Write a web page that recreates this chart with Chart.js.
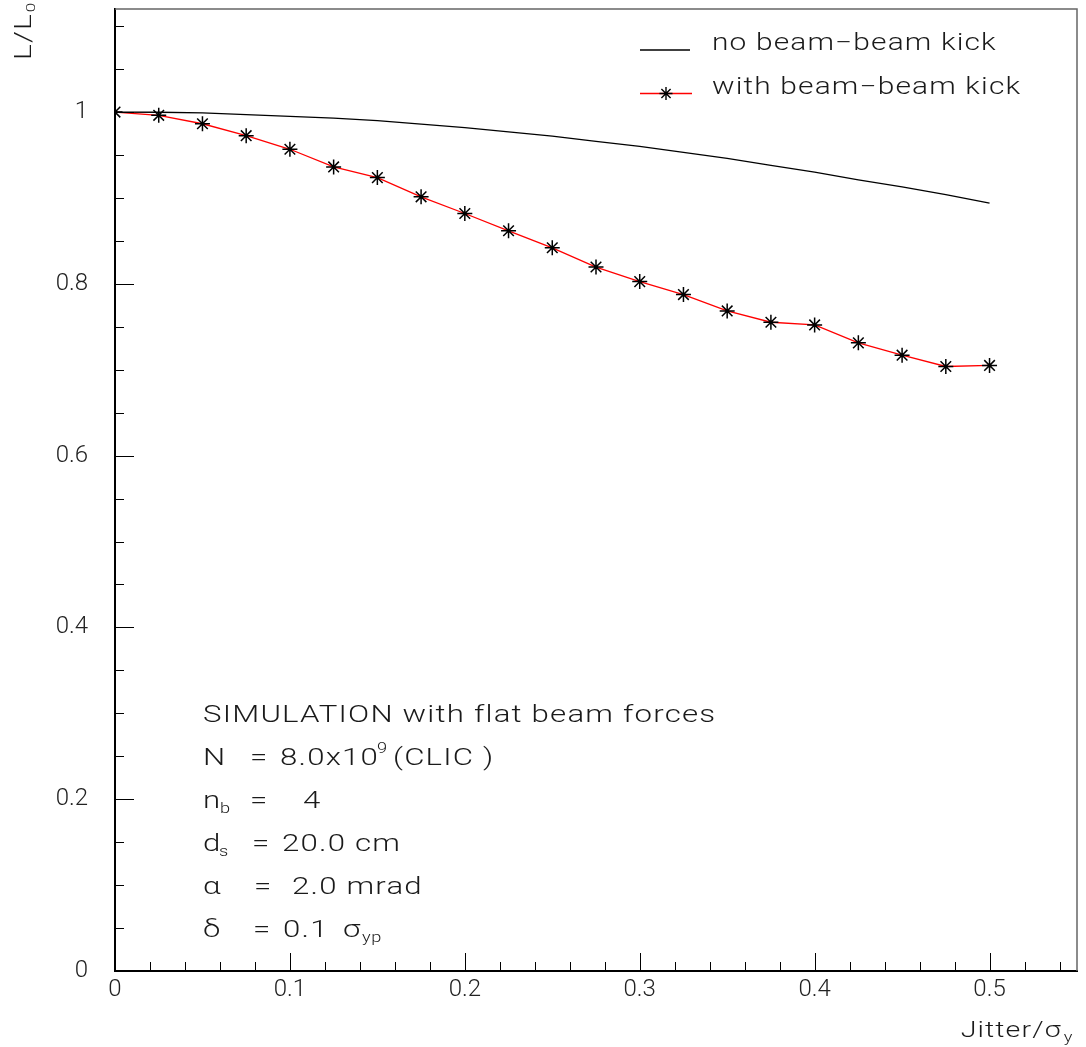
<!DOCTYPE html>
<html>
<head>
<meta charset="utf-8">
<script src="https://cdn.jsdelivr.net/npm/chart.js@4"></script>
<style>
html,body{margin:0;padding:0;background:#fff;}
#c{display:block;}
</style>
</head>
<body>
<canvas id="c" width="1086" height="1047"></canvas>
<script>
// ---- data ----
const xValues = [0, 0.025, 0.05, 0.075, 0.1, 0.125, 0.15, 0.175, 0.2, 0.225, 0.25,
                 0.275, 0.3, 0.325, 0.35, 0.375, 0.4, 0.425, 0.45, 0.475, 0.5];
const noKick = [1.000, 0.9998, 0.999, 0.997, 0.995, 0.993, 0.990, 0.986, 0.982, 0.977, 0.972,
                0.966, 0.960, 0.953, 0.946, 0.938, 0.930, 0.921, 0.913, 0.904, 0.894];
const withKick = [1.000, 0.9962, 0.9864, 0.9725, 0.9567, 0.9361, 0.9237, 0.9013, 0.8819, 0.8618, 0.8420,
                  0.8196, 0.8026, 0.7875, 0.7685, 0.7553, 0.7522, 0.7313, 0.7170, 0.7038, 0.7050];
const xTicks = [0, 0.1, 0.2, 0.3, 0.4, 0.5];
const xTickLabels = ['0', '0.1', '0.2', '0.3', '0.4', '0.5'];
const yTicks = [0, 0.2, 0.4, 0.6, 0.8, 1];
const yTickLabels = ['0', '0.2', '0.4', '0.6', '0.8', '1'];
const seriesNames = ['no beam\u2212beam kick', 'with beam\u2212beam kick'];

const FONT = 'Roboto, "DejaVu Sans", sans-serif';
const SX = 1.3;
let LSEM = 0.05; // letter spacing in em, fitted below

function txt(ctx, s, x, y, size, align) {
  ctx.save();
  ctx.font = '300 ' + size + 'px ' + FONT;
  ctx.letterSpacing = (LSEM * size).toFixed(2) + 'px';
  ctx.fillStyle = '#1a1a1a';
  ctx.textBaseline = 'alphabetic';
  const w = ctx.measureText(s).width * SX;
  ctx.translate(align === 'right' ? x - w : x, y);
  ctx.scale(SX, 1);
  ctx.textAlign = 'left';
  ctx.fillText(s, 0, 0);
  ctx.restore();
  return w;
}

function fitSpacing(ctx) {
  ctx.save();
  const s = 'SIMULATION with flat beam forces';
  ctx.font = '300 24px ' + FONT;
  ctx.letterSpacing = '0px';
  const w0 = ctx.measureText(s).width;
  ctx.restore();
  const ls = (513 / SX - w0) / s.length;
  LSEM = Math.max(0, ls / 24);
}

function star(ctx, x, y, r) {
  ctx.beginPath();
  ctx.moveTo(x - r, y); ctx.lineTo(x + r, y);
  ctx.moveTo(x, y - r); ctx.lineTo(x, y + r);
  const d = r * Math.SQRT1_2;
  ctx.moveTo(x - d, y - d); ctx.lineTo(x + d, y + d);
  ctx.moveTo(x - d, y + d); ctx.lineTo(x + d, y - d);
  ctx.stroke();
}

const decor = {
  id: 'decor',
  afterDraw(chart) {
    const ctx = chart.ctx;
    const a = chart.chartArea;
    const xs = chart.scales.x, ys = chart.scales.y;
    fitSpacing(ctx);

    // frame top/right
    ctx.save();
    ctx.strokeStyle = '#666';
    ctx.lineWidth = 1.5;
    ctx.beginPath();
    ctx.moveTo(a.left, a.top); ctx.lineTo(a.right, a.top); ctx.lineTo(a.right, a.bottom);
    ctx.stroke();

    // inward ticks
    ctx.strokeStyle = '#000';
    ctx.lineWidth = 1;
    ctx.beginPath();
    for (let k = 1; k <= 22; k++) {
      const py = Math.round(ys.getPixelForValue(k * 0.05)) + 0.5;
      const len = (k % 4 === 0) ? 19 : 9;
      ctx.moveTo(a.left, py); ctx.lineTo(a.left + len, py);
    }
    for (let k = 1; k <= 27; k++) {
      const px = Math.round(xs.getPixelForValue(k * 0.02)) + 0.5;
      const len = (k % 5 === 0) ? 18 : 9;
      ctx.moveTo(px, a.bottom); ctx.lineTo(px, a.bottom - len);
    }
    ctx.stroke();

    // legend
    ctx.lineWidth = 1.3;
    ctx.strokeStyle = '#000';
    ctx.beginPath(); ctx.moveTo(640, 50); ctx.lineTo(690, 50); ctx.stroke();
    ctx.strokeStyle = '#ff0000';
    ctx.beginPath(); ctx.moveTo(640, 93.5); ctx.lineTo(692, 93.5); ctx.stroke();
    ctx.strokeStyle = '#000';
    ctx.lineWidth = 1.4;
    star(ctx, 666, 93.5, 6.5);
    ctx.restore();
    txt(ctx, seriesNames[0], 712, 50, 23);
    txt(ctx, seriesNames[1], 712, 94, 23);

    // annotation block
    txt(ctx, 'SIMULATION with flat beam forces', 203, 722, 24);
    txt(ctx, 'N', 203, 765, 24);
    txt(ctx, '=', 250, 765, 24);
    txt(ctx, '8.0x10', 280, 765, 24);
    txt(ctx, '9', 377, 753, 14);
    txt(ctx, '(CLIC )', 393, 765, 24);
    txt(ctx, 'n', 203, 808, 24);
    txt(ctx, 'b', 220, 813, 14);
    txt(ctx, '=', 250, 808, 24);
    txt(ctx, '4', 303, 808, 24);
    txt(ctx, 'd', 203, 851, 24);
    txt(ctx, 's', 219, 856, 14);
    txt(ctx, '=', 252, 851, 24);
    txt(ctx, '20.0 cm', 282, 851, 24);
    txt(ctx, '\u03b1', 203, 894, 24);
    txt(ctx, '=', 254, 894, 24);
    txt(ctx, '2.0 mrad', 292, 894, 24);
    txt(ctx, '\u03b4', 203, 937, 24);
    txt(ctx, '=', 253, 937, 24);
    txt(ctx, '0.1', 283, 937, 24);
    txt(ctx, '\u03c3', 343, 937, 24);
    txt(ctx, 'yp', 362, 942, 14);

    // x axis title
    const wy = txt(ctx, 'y', 1073, 1042, 14, 'right');
    txt(ctx, 'Jitter/\u03c3', 1073 - wy - 2, 1037, 22, 'right');

    // y axis title (rotated)
    ctx.save();
    ctx.translate(31, 60);
    ctx.rotate(-Math.PI / 2);
    const wl = txt(ctx, 'L/L', 0, 0, 23);
    txt(ctx, '0', wl + 1, 4, 13);
    ctx.restore();
  }
};

const tickFont = { family: FONT, size: 24, weight: '300' };

new Chart(document.getElementById('c'), {
  type: 'line',
  data: {
    datasets: [
      {
        label: seriesNames[1],
        data: xValues.map((x, i) => ({ x: x, y: withKick[i] })),
        borderColor: '#ff0000',
        borderWidth: 1.3,
        pointStyle: 'star',
        pointRadius: 7.5,
        pointBorderColor: '#000',
        pointBackgroundColor: '#000',
        pointBorderWidth: 1.5,
        tension: 0,
        clip: 0
      },
      {
        label: seriesNames[0],
        data: xValues.map((x, i) => ({ x: x, y: noKick[i] })),
        borderColor: '#000',
        borderWidth: 1.3,
        pointRadius: 0,
        tension: 0,
        clip: 0
      }
    ]
  },
  options: {
    responsive: false,
    animation: false,
    devicePixelRatio: 1,
    layout: { padding: { left: 0, top: 7, right: 8, bottom: 0 } },
    plugins: { legend: { display: false }, tooltip: { enabled: false } },
    scales: {
      x: {
        type: 'linear',
        min: 0, max: 0.55,
        afterFit(s) { s.height = 76; s.paddingLeft = 0; s.paddingRight = 0; },
        afterBuildTicks(s) { s.ticks = xTicks.map(v => ({ value: v })); },
        grid: { display: false, drawTicks: false },
        border: { display: true, color: '#000', width: 2 },
        ticks: {
          font: tickFont, color: '#222', padding: 5, maxRotation: 0, autoSkip: false,
          callback: (v, i) => xTickLabels[i]
        }
      },
      y: {
        type: 'linear',
        min: 0, max: 1.12,
        afterFit(s) { s.width = 115; s.paddingTop = 0; s.paddingBottom = 0; },
        afterBuildTicks(s) { s.ticks = yTicks.map(v => ({ value: v })); },
        grid: { display: false, drawTicks: false },
        border: { display: true, color: '#000', width: 2 },
        ticks: {
          font: tickFont, color: '#222', padding: 27, autoSkip: false,
          callback: (v, i) => yTickLabels[i]
        }
      }
    }
  },
  plugins: [decor]
});
</script>
</body>
</html>
